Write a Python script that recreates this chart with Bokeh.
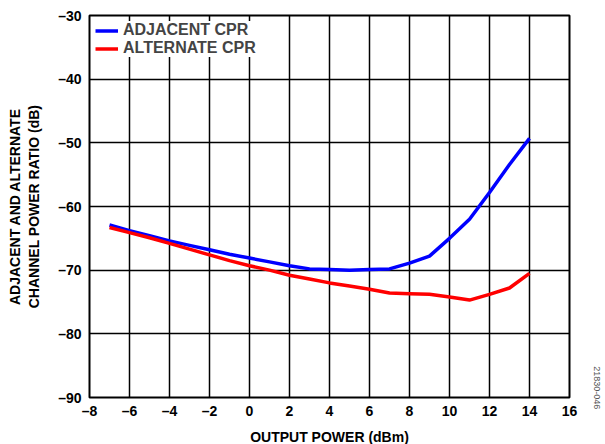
import math
from bokeh.plotting import figure
from bokeh.models import Range1d, FixedTicker, Legend, LegendItem, LinearAxis
from bokeh.embed import file_html
from bokeh.resources import INLINE

output_power = [-7, -6, -5, -4, -3, -2, -1, 0, 1, 2, 3, 4, 5, 6, 7, 8, 9, 10, 11, 12, 13, 14]
adjacent_cpr = [-62.9, -63.8, -64.6, -65.4, -66.1, -66.8, -67.5, -68.1, -68.7, -69.3, -69.8,
                -69.9, -70.0, -69.9, -69.8, -68.9, -67.8, -65.0, -62.0, -57.8, -53.4, -49.3]
alternate_cpr = [-63.3, -64.1, -64.9, -65.8, -66.7, -67.6, -68.5, -69.3, -70.0, -70.8, -71.4,
                 -72.0, -72.5, -73.0, -73.6, -73.7, -73.8, -74.2, -74.7, -73.8, -72.8, -70.5]
x_ticks = [-8, -6, -4, -2, 0, 2, 4, 6, 8, 10, 12, 14, 16]
y_ticks = [-90, -80, -70, -60, -50, -40, -30]

FONT = "Liberation Sans"

p = figure(frame_width=480, frame_height=382, output_backend="svg", toolbar_location=None,
           x_range=Range1d(-8, 16), y_range=Range1d(-90, -30),
           min_border_left=89, min_border_right=36, min_border_top=15, min_border_bottom=47)

p.outline_line_color = "black"
p.outline_line_width = 2
p.background_fill_color = "white"
p.border_fill_color = "white"

def fmt(v):
    return ("\u2013" + str(abs(v))) if v < 0 else str(v)

for ax, ticks in ((p.xaxis[0], x_ticks), (p.yaxis[0], y_ticks)):
    ax.ticker = FixedTicker(ticks=ticks)
    ax.major_label_overrides = {t: fmt(t) for t in ticks}
    ax.major_tick_line_color = None
    ax.minor_tick_line_color = None
    ax.major_tick_in = 0
    ax.major_tick_out = 0
    ax.minor_tick_in = 0
    ax.minor_tick_out = 0
    ax.axis_line_color = None
    ax.major_label_text_font = FONT
    ax.major_label_text_font_style = "bold"
    ax.major_label_text_font_size = "14px"
    ax.major_label_text_color = "black"
    ax.axis_label_text_font = FONT
    ax.axis_label_text_font_style = "bold"
    ax.axis_label_text_font_size = "14px"
    ax.axis_label_text_color = "black"

p.xaxis[0].major_label_standoff = 5
p.yaxis[0].major_label_standoff = 8
p.xaxis[0].axis_label = "OUTPUT POWER (dBm)"
p.xaxis[0].axis_label_standoff = 7
p.yaxis[0].axis_label = "ADJACENT AND ALTERNATE\nCHANNEL POWER RATIO (dB)"
p.yaxis[0].axis_label_standoff = 13

for g, ticks in ((p.xgrid[0], x_ticks), (p.ygrid[0], y_ticks)):
    g.ticker = FixedTicker(ticks=ticks)
    g.grid_line_color = "black"
    g.grid_line_width = 1.5
    g.grid_line_alpha = 1.0

r1 = p.line(output_power, adjacent_cpr, line_color="#0000ff", line_width=3.5)
r2 = p.line(output_power, alternate_cpr, line_color="#ff0000", line_width=3.5)

legend = Legend(items=[LegendItem(label="ADJACENT CPR", renderers=[r1]),
                       LegendItem(label="ALTERNATE CPR", renderers=[r2])],
                location="top_left")
legend.margin = 6
legend.padding = 7
legend.spacing = 0
legend.border_line_color = None
legend.background_fill_color = "white"
legend.background_fill_alpha = 1.0
legend.label_text_font = FONT
legend.label_text_font_style = "bold"
legend.label_text_font_size = "16px"
legend.label_height = 15
legend.glyph_height = 15
legend.glyph_width = 23
legend.label_standoff = 5
p.add_layout(legend)

# figure ID along the right edge, pushed toward the bottom with leading no-break spaces
id_axis = LinearAxis(axis_label="\u00a0" * 145 + "21830-046")
id_axis.ticker = FixedTicker(ticks=[])
id_axis.major_label_text_font_size = "0px"
id_axis.major_tick_line_color = None
id_axis.minor_tick_line_color = None
id_axis.major_tick_out = 0
id_axis.major_tick_in = 0
id_axis.axis_line_color = None
id_axis.axis_label_text_font = FONT
id_axis.axis_label_text_font_size = "9px"
id_axis.axis_label_text_font_style = "normal"
id_axis.axis_label_text_color = "#555555"
id_axis.axis_label_standoff = 22
p.add_layout(id_axis, "right")

open("out.html", "w").write(file_html(p, INLINE))
